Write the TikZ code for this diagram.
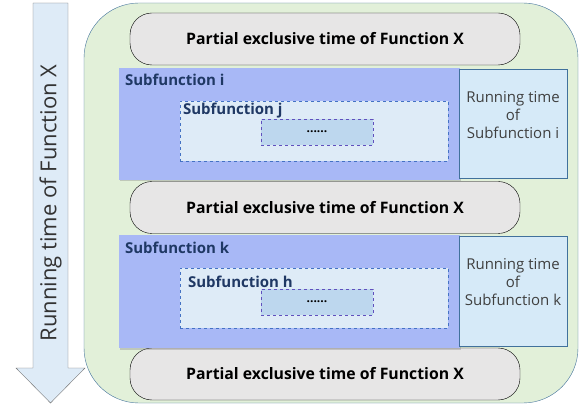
\documentclass[tikz,border=0pt]{standalone}
\usepackage{fontspec}
\setmainfont{Open Sans}
\usepackage{tikz}
\usetikzlibrary{arrows,shapes,positioning,shadows}

\definecolor{vertfond}{RGB}{226,240,217}
\definecolor{bordbleu}{RGB}{65,113,156}
\definecolor{grisbox}{RGB}{231,230,230}
\definecolor{pervenche}{RGB}{168,184,246}
\definecolor{cielclair}{RGB}{214,234,248}
\definecolor{bleupale}{RGB}{222,235,247}
\definecolor{bleumoyen}{RGB}{189,215,238}
\definecolor{tiretbleu}{RGB}{68,114,196}
\definecolor{violet}{RGB}{96,80,190}
\definecolor{bleunuit}{RGB}{31,56,100}

\tikzset{
  partielle/.style={draw=black, fill=grisbox, rounded corners=22pt, minimum width=390pt, minimum height=52pt, font=\bfseries\fontsize{15.8}{18}\selectfont},
  sousfonc/.style={fill=pervenche, minimum width=341pt, drop shadow={opacity=0.35, shadow xshift=1.2pt, shadow yshift=-1.5pt}},
  duree/.style={draw=bordbleu, fill=cielclair, minimum width=108pt, drop shadow={opacity=0.3, shadow xshift=1pt, shadow yshift=-1pt}},
  texteduree/.style={align=center, text=black!75, font=\fontsize{15}{18}\selectfont},
  interne/.style={draw=tiretbleu, dashed, fill=bleupale, minimum width=268pt, minimum height=60pt},
  points/.style={draw=violet, dashed, fill=bleumoyen, minimum width=112pt, minimum height=26pt, font=\bfseries\fontsize{12}{12}\selectfont},
  etiq/.style={anchor=west, text=bleunuit, font=\bfseries\fontsize{15}{16}\selectfont},
}

\begin{document}
\begin{tikzpicture}[x=1pt,y=-1pt,every node/.style={inner sep=0pt, outer sep=0pt}]
\useasboundingbox (0,0) rectangle (584,406);

% fleche du temps
\coordinate (a1) at (33,3);
\coordinate (a2) at (68,3);
\coordinate (pointe) at (50.5,403);
\draw[draw=black!55, fill=bleupale] (a1) -- (a2) -- (68,368) -- (85,368) -- (pointe) -- (16,368) -- (33,368) -- cycle;
\node[rotate=90, text=black!80, font=\fontsize{22}{24}\selectfont] (temps) at (50.5,203) {Running time of Function X};

% cadre fonction X
\node[draw=bordbleu, fill=vertfond, rounded corners=55pt, minimum width=494pt, minimum height=400pt] (F) at (331,203) {};

% temps exclusifs
\node[partielle] (p1) at (325,39) {Partial exclusive time of Function X};
\node[partielle] (p2) at (325,207.5) {Partial exclusive time of Function X};
\node[partielle] (p3) at (325,374) {Partial exclusive time of Function X};

% sous-fonction i
\node[sousfonc, minimum height=112pt] (si) at (289.5,124) {};
\node[duree, minimum height=109pt] (ri) at (513,123.5) {};
\node[texteduree] (ti) at (513,115) {Running time\\of\\Subfunction i};
\node[etiq] (li) at (125,80) {Subfunction i};
\node[interne] (sj) at (314,131) {};
\node[etiq] (lj) at (183,111) {Subfunction j};
\node[points] (dj) at (317,132) {......};

% sous-fonction k
\node[sousfonc, minimum height=113pt] (sk) at (289.5,291.5) {};
\node[duree, minimum height=110pt] (rk) at (513,291) {};
\node[texteduree] (tk) at (513,282) {Running time\\of\\Subfunction k};
\node[etiq] (lk) at (125,248) {Subfunction k};
\node[interne] (sh) at (314,298) {};
\node[etiq] (lh) at (188,282) {Subfunction h};
\node[points] (dh) at (317,302) {......};

\end{tikzpicture}
\end{document}
